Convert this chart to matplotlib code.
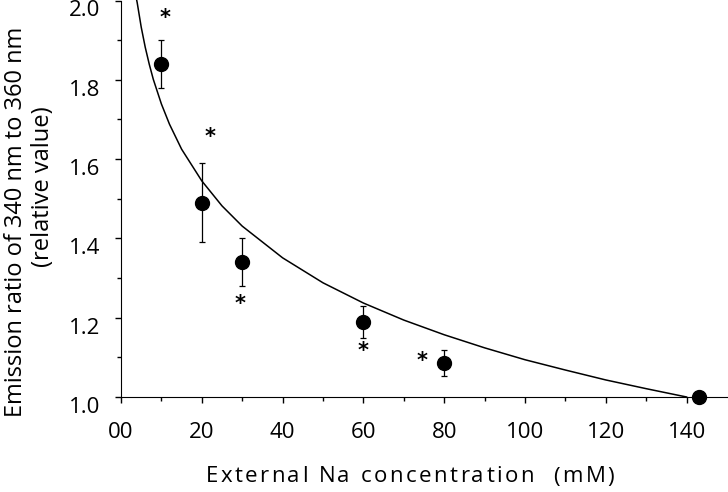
import numpy as np
import matplotlib.pyplot as plt
import matplotlib.transforms as mtransforms

plt.rcParams['font.family'] = ['Open Sans', 'DejaVu Sans']

# measured points (mean +/- error)
na_conc = [10, 20, 30, 60, 80, 143]
ratio = [1.84, 1.49, 1.34, 1.19, 1.085, 1.0]
ratio_err = [0.06, 0.10, 0.06, 0.04, 0.033, 0.0]

# significance marks
star_x = [11, 22, 29.5, 60, 74.5]
star_y = [1.955, 1.655, 1.235, 1.115, 1.09]

# fitted curve
curve_x = [3.9, 4, 5, 6, 7, 8, 10, 12, 15, 20, 25, 30, 40, 50, 60, 70, 80,
           90, 100, 110, 120, 130, 140]
curve_y = [2.0, 1.995, 1.933, 1.882, 1.839, 1.801, 1.739, 1.688, 1.625,
           1.545, 1.482, 1.431, 1.351, 1.288, 1.237, 1.194, 1.157, 1.124,
           1.094, 1.068, 1.043, 1.021, 1.0]

x_ticks = [0, 20, 40, 60, 80, 100, 120, 140]
x_tick_labels = ['00', '20', '40', '60', '80', '100', '120', '140']
y_ticks = [1.0, 1.2, 1.4, 1.6, 1.8, 2.0]

fig = plt.figure(figsize=(7.28, 4.92), dpi=100)
ax = fig.add_axes([121 / 728, 1 - 397 / 492, 606 / 728, 396.5 / 492])

ax.plot(curve_x, curve_y, color='black', lw=1.1, clip_on=False)
ax.errorbar(na_conc, ratio, yerr=ratio_err, fmt='o', color='black',
            ms=10, elinewidth=0.9, capsize=2.5, capthick=0.9, clip_on=False,
            zorder=3)
for sx, sy in zip(star_x, star_y):
    ax.text(sx, sy, '*', ha='center', va='center', fontsize=15,
            fontweight='bold', family='DejaVu Sans')

ax.set_xlim(0, 150)
ax.set_ylim(1.0, 2.0)
ax.set_xticks(x_ticks)
ax.set_xticklabels(x_tick_labels)
ax.set_xticks(np.arange(10, 150, 20), minor=True)
ax.set_yticks(y_ticks)
ax.set_yticklabels([f'{v:.1f}' for v in y_ticks])
ax.set_yticks([1.1, 1.3, 1.5, 1.7, 1.9], minor=True)
ax.tick_params(which='both', direction='out', labelsize=16, width=1)
ax.tick_params(which='major', length=4)
ax.tick_params(which='minor', length=3)
ax.tick_params(axis='x', pad=14)
ax.tick_params(axis='y', pad=11)
ax.spines['top'].set_visible(False)
ax.spines['right'].set_visible(False)

# y tick labels sit a little below their ticks in the original
shift = mtransforms.ScaledTranslation(0, -0.08, fig.dpi_scale_trans)
for lab in ax.yaxis.get_majorticklabels():
    lab.set_transform(lab.get_transform() + shift)

# x label with wide letter spacing
xlabel = 'External Na concentration  (mM)'
renderer = fig.canvas.get_renderer()
widths = []
for ch in xlabel:
    t = fig.text(0, 0, ch if ch != ' ' else 'n', fontsize=16)
    w = t.get_window_extent(renderer).width
    widths.append(w * 0.45 if ch == ' ' else w)
    t.remove()
gap = 2.4
total = sum(widths) + gap * (len(xlabel) - 1)
x0 = 410 - total / 2
for ch, w in zip(xlabel, widths):
    if ch != ' ':
        fig.text(x0 / 728, 1 - 477 / 492, ch, ha='left', va='center',
                 fontsize=16)
    x0 += w + gap

fig.text(16 / 728, 1 - 222 / 492, 'Emission ratio of 340 nm to 360 nm',
         ha='center', va='center', rotation=90, fontsize=17)
fig.text(43 / 728, 1 - 187 / 492, '(relative value)',
         ha='center', va='center', rotation=90, fontsize=17)

fig.savefig('out.png', dpi=100)
